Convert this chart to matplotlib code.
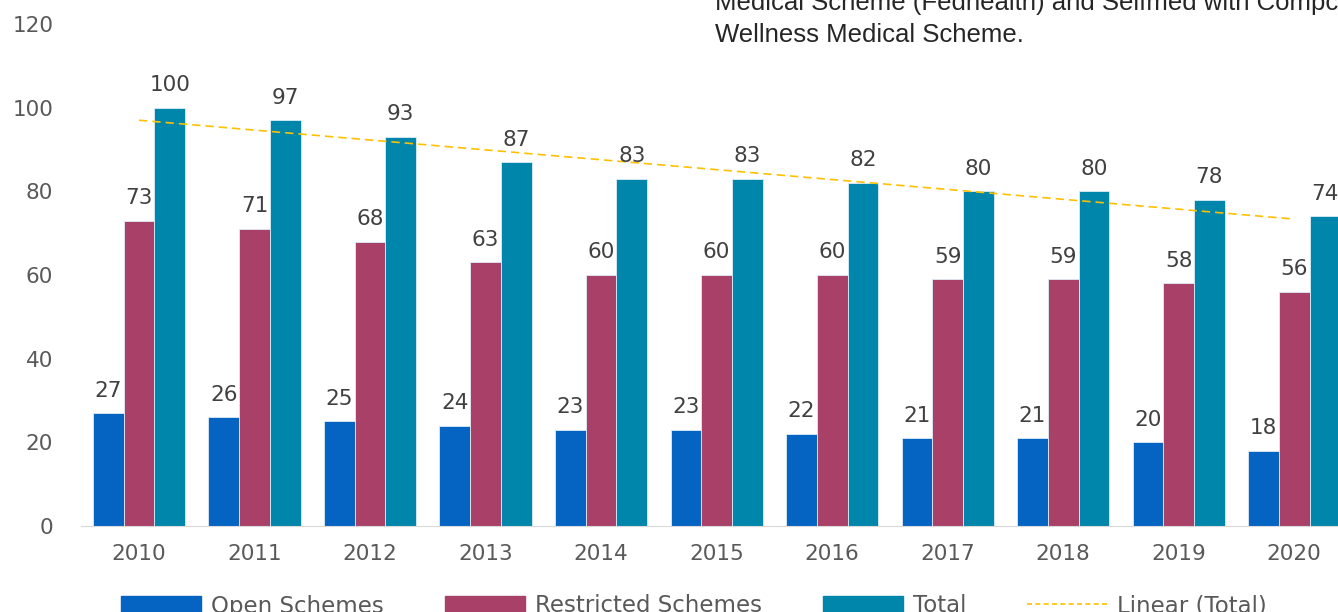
import numpy as np
import matplotlib.pyplot as plt
from matplotlib.patches import Patch
from matplotlib.lines import Line2D

years = ["2010", "2011", "2012", "2013", "2014", "2015", "2016", "2017", "2018", "2019", "2020"]
open_schemes = [27, 26, 25, 24, 23, 23, 22, 21, 21, 20, 18]
restricted_schemes = [73, 71, 68, 63, 60, 60, 60, 59, 59, 58, 56]
total = [100, 97, 93, 87, 83, 83, 82, 80, 80, 78, 74]

c_open = "#0563C1"
c_restr = "#A94068"
c_total = "#0086AB"
c_trend = "#FFC000"

fig = plt.figure(figsize=(13.38, 6.12), dpi=100)
# axes runs past the right edge of the figure (reference is cropped)
ax = fig.add_axes([81 / 1338, 86 / 612, 1271 / 1338, 502 / 612])

x = np.arange(len(years))
w = 0.266
for off, vals, col in [(-w, open_schemes, c_open), (0, restricted_schemes, c_restr), (w, total, c_total)]:
    ax.bar(x + off, vals, w, color=col, edgecolor="#DDEBF7", linewidth=0.6)
    for xi, v in zip(x + off, vals):
        ax.annotate(str(v), (xi, v), xytext=(0, 9), textcoords="offset points",
                    ha="center", va="bottom", fontsize=15.5, color="#404040")

# linear trendline of Total
k, b0 = np.polyfit(x, total, 1)
ax.plot(x, k * x + b0, color=c_trend, linestyle=(0, (5, 3)), linewidth=1.2)

ax.set_xlim(-0.502, 10.5)
ax.set_ylim(0, 120)
ax.set_yticks(range(0, 121, 20))
ax.set_xticks(x)
ax.set_xticklabels(years)
ax.tick_params(axis="both", length=0, labelsize=15.5, labelcolor="#595959")
ax.tick_params(axis="y", pad=20)
ax.tick_params(axis="x", pad=13)
for s in ["top", "right", "left"]:
    ax.spines[s].set_visible(False)
ax.spines["bottom"].set_color("#D9D9D9")

handles = [Patch(color=c_open), Patch(color=c_restr), Patch(color=c_total),
           Line2D([], [], color=c_trend, linestyle=(0, (3, 2)), linewidth=1.2)]
labels = ["Open Schemes", "Restricted Schemes", "Total", "Linear (Total)"]
fig.legend(handles, labels, loc="center", ncol=4, frameon=False,
           bbox_to_anchor=(694 / 1338, 1 - 606 / 612), fontsize=16.5,
           handlelength=3.5, handleheight=0.7, handletextpad=0.44, columnspacing=2.65,
           labelcolor="#595959")

fig.text(715 / 1338, 1 - 10 / 612, "Medical Scheme (Fedhealth) and Selfmed with Compcare",
         fontsize=18.5, family="Liberation Sans", color="#262626", va="baseline")
fig.text(715 / 1338, 1 - 42 / 612, "Wellness Medical Scheme.",
         fontsize=18.5, family="Liberation Sans", color="#262626", va="baseline")

fig.savefig("out.png", dpi=100)
